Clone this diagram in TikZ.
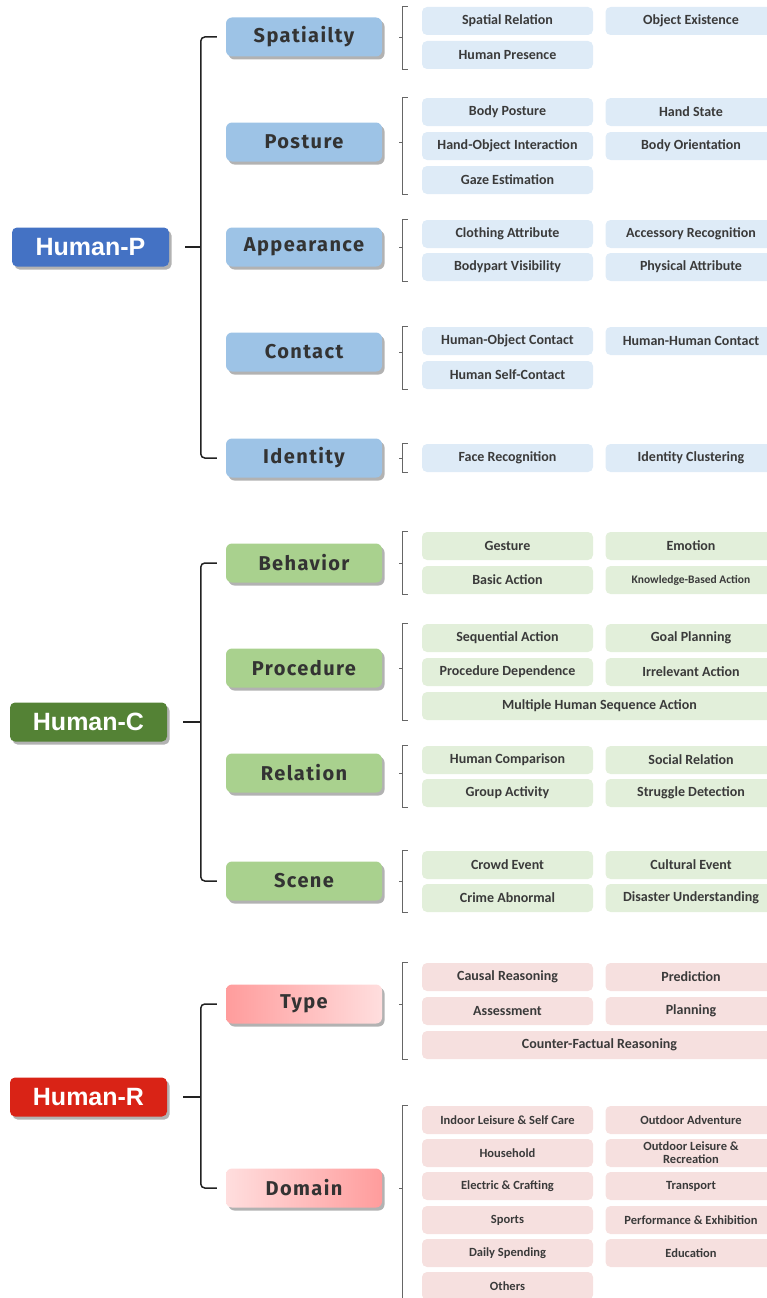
\documentclass[tikz,border=0pt]{standalone}
\usepackage{fontspec}
\usetikzlibrary{shadows,calc}
\newfontfamily\leaffont{Carlito}
\newfontfamily\midfont[LetterSpace=7]{Fira Sans}
\newfontfamily\rootfont{Liberation Sans}
\definecolor{blueRoot}{HTML}{4472C4}
\definecolor{blueMid}{HTML}{9DC3E6}
\definecolor{blueLeaf}{HTML}{DEEBF7}
\definecolor{greenRoot}{HTML}{548235}
\definecolor{greenMid}{HTML}{A9D18E}
\definecolor{greenLeaf}{HTML}{E2EFDA}
\definecolor{redRoot}{HTML}{D92316}
\definecolor{pinkDark}{HTML}{FF9C9C}
\definecolor{pinkLight}{HTML}{FFDEDE}
\definecolor{pinkLeaf}{HTML}{F6E0DF}
\definecolor{midText}{HTML}{333333}
\definecolor{leafText}{HTML}{3A3A3A}
\definecolor{braceCol}{HTML}{222222}
\definecolor{lbrCol}{HTML}{666666}
\newcommand\leafbracket[3]{%
  \draw[lbr] ([xshift=-14pt]#1.north west) -- ([xshift=-19pt]#1.north west) -- ([xshift=-19pt]#2.south west) -- ([xshift=-14pt]#2.south west);
  \draw[lbr] ([xshift=17pt]#3.east) -- ([xshift=21pt]#3.east);}
\newcommand\rootbrace[3]{%
  \coordinate (bx-#1) at ([xshift=-25pt]#2.west);
  \draw[brace, rounded corners=4pt] ([xshift=-9pt]#2.west) -- (bx-#1) -- (bx-#1 |- #3.west) -- ([xshift=-9pt]#3.west);
  \draw[brace] ([xshift=16pt]#1.east) -- (bx-#1 |- #1.east);}
\begin{document}
\begin{tikzpicture}[x=1pt,y=-1pt,
  shad/.style={drop shadow={shadow xshift=2.5pt, shadow yshift=-3pt, fill=black, opacity=0.3}},
  root/.style={shad, rounded corners=5pt, minimum width=157pt, minimum height=39pt, inner sep=0pt, text=white, font=\rootfont\bfseries\fontsize{25}{25}\selectfont},
  mid/.style={shad, rounded corners=6pt, minimum width=156pt, minimum height=39pt, inner sep=0pt, text=midText, font=\midfont\bfseries\fontsize{20}{20}\selectfont},
  leaf/.style={rounded corners=5pt, minimum width=171pt, minimum height=28pt, inner sep=0pt, text=leafText, font=\leaffont\bfseries\fontsize{14}{14}\selectfont},
  wide/.style={minimum width=355pt},
  bl/.style={leaf, fill=blueLeaf},
  gl/.style={leaf, fill=greenLeaf},
  pl/.style={leaf, fill=pinkLeaf},
  dl/.style={pl, font=\leaffont\bfseries\fontsize{12.5}{13}\selectfont, align=center},
  lbr/.style={draw=lbrCol, line width=0.8pt},
  brace/.style={draw=braceCol, line width=1.5pt}]
\useasboundingbox (0,0) rectangle (767,1298);
\clip (0,0) rectangle (767,1298);

% ---------------- Human-P ----------------
\node[root, fill=blueRoot] (hp) at (90.5,247) {Human-P};
\node[mid, fill=blueMid] (spat) at (304,37) {Spatiailty};
\node[mid, fill=blueMid] (post) at (304,142) {Posture};
\node[mid, fill=blueMid] (appe) at (304,247) {Appearance};
\node[mid, fill=blueMid] (cont) at (304,352) {Contact};
\node[mid, fill=blueMid] (iden) at (304,458) {Identity};

\node[bl] (sr) at (507.5,21) {Spatial Relation};
\node[bl] (oe) at (691,21) {Object Existence};
\node[bl] (hpr) at (507.5,55) {Human Presence};

\node[bl] (bp) at (507.5,112) {Body Posture};
\node[bl] (hs) at (691,112) {Hand State};
\node[bl] (hoi) at (507.5,146) {Hand-Object Interaction};
\node[bl] (bo) at (691,146) {Body Orientation};
\node[bl] (ge) at (507.5,180) {Gaze Estimation};

\node[bl] (ca) at (507.5,234) {Clothing Attribute};
\node[bl] (ar) at (691,234) {Accessory Recognition};
\node[bl] (bv) at (507.5,267) {Bodypart Visibility};
\node[bl] (pa) at (691,267) {Physical Attribute};

\node[bl] (hoc) at (507.5,341) {Human-Object Contact};
\node[bl] (hhc) at (691,341) {Human-Human Contact};
\node[bl] (hsc) at (507.5,375) {Human Self-Contact};

\node[bl] (fr) at (507.5,458) {Face Recognition};
\node[bl] (ic) at (691,458) {Identity Clustering};

\rootbrace{hp}{spat}{iden}
\leafbracket{sr}{hpr}{spat}
\leafbracket{bp}{ge}{post}
\leafbracket{ca}{bv}{appe}
\leafbracket{hoc}{hsc}{cont}
\leafbracket{fr}{fr}{iden}

% ---------------- Human-C ----------------
\node[root, fill=greenRoot] (hc) at (88.5,722) {Human-C};
\node[mid, fill=greenMid] (beh) at (304,563) {Behavior};
\node[mid, fill=greenMid] (proc) at (304,668) {Procedure};
\node[mid, fill=greenMid] (rel) at (304,773) {Relation};
\node[mid, fill=greenMid] (scn) at (304,881) {Scene};

\node[gl] (ges) at (507.5,546) {Gesture};
\node[gl] (emo) at (691,546) {Emotion};
\node[gl] (ba) at (507.5,580) {Basic Action};
\node[gl, font=\leaffont\bfseries\fontsize{11.5}{11.5}\selectfont] (kba) at (691,580) {Knowledge-Based Action};

\node[gl] (sa) at (507.5,638) {Sequential Action};
\node[gl] (gp) at (691,638) {Goal Planning};
\node[gl] (pd) at (507.5,672) {Procedure Dependence};
\node[gl] (ia) at (691,672) {Irrelevant Action};
\node[gl, wide] (mhsa) at (599.5,706) {Multiple Human Sequence Action};

\node[gl] (hcm) at (507.5,760) {Human Comparison};
\node[gl] (sor) at (691,760) {Social Relation};
\node[gl] (ga) at (507.5,793) {Group Activity};
\node[gl] (sd) at (691,793) {Struggle Detection};

\node[gl] (ce) at (507.5,865) {Crowd Event};
\node[gl] (cue) at (691,865) {Cultural Event};
\node[gl] (cra) at (507.5,898) {Crime Abnormal};
\node[gl] (du) at (691,898) {Disaster Understanding};

\rootbrace{hc}{beh}{scn}
\leafbracket{ges}{ba}{beh}
\leafbracket{sa}{mhsa}{proc}
\leafbracket{hcm}{ga}{rel}
\leafbracket{ce}{cra}{scn}

% ---------------- Human-R ----------------
\node[root, fill=redRoot] (hr) at (88.5,1097) {Human-R};
\node[mid, left color=pinkDark, right color=pinkLight] (typ) at (304,1004) {Type};
\node[mid, left color=pinkLight, right color=pinkDark] (dom) at (304,1188) {Domain};

\node[pl] (cr) at (507.5,977) {Causal Reasoning};
\node[pl] (pred) at (691,977) {Prediction};
\node[pl] (ass) at (507.5,1011) {Assessment};
\node[pl] (plan) at (691,1011) {Planning};
\node[pl, wide] (cfr) at (599.5,1045) {Counter-Factual Reasoning};

\node[dl] (ilsc) at (507.5,1120) {Indoor Leisure \& Self Care};
\node[dl] (oa) at (691,1120) {Outdoor Adventure};
\node[dl] (hh) at (507.5,1153) {Household};
\node[dl] (olr) at (691,1153) {Outdoor Leisure \&\\Recreation};
\node[dl] (ecr) at (507.5,1186) {Electric \& Crafting};
\node[dl] (tr) at (691,1186) {Transport};
\node[dl] (spo) at (507.5,1220) {Sports};
\node[dl] (pe) at (691,1220) {Performance \& Exhibition};
\node[dl] (ds) at (507.5,1253) {Daily Spending};
\node[dl] (edu) at (691,1253) {Education};
\node[dl] (oth) at (507.5,1286) {Others};

\rootbrace{hr}{typ}{dom}
\leafbracket{cr}{cfr}{typ}
\leafbracket{ilsc}{oth}{dom}
\end{tikzpicture}
\end{document}
